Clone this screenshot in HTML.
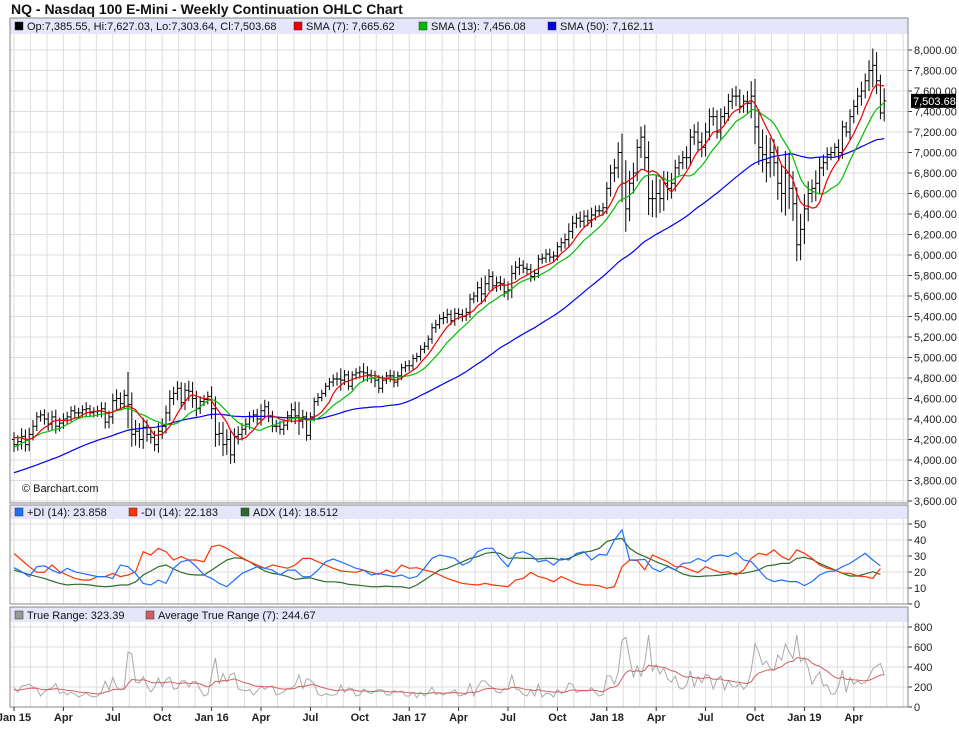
<!DOCTYPE html>
<html><head><meta charset="utf-8"><style>
body{margin:0;background:#fff;}
svg text{font-family:"Liberation Sans",sans-serif;}
</style></head><body>
<svg id="c" width="959" height="748" viewBox="0 0 959 748"></svg>
<script>
const pre = [3550,3580,3600,3560,3600,3680,3720,3740,3720,3680,3650,3700,3620,3590,3570,3620,3610,3650,3680,3740,3760,3780,3820,3840,3850,3870,3900,3920,3950,3970,3910,3970,4010,4030,4070,4090,4080,4050,3980,3940,3900,4030,4100,4140,4180,4240,4270,4230,4260,4200];
const closes = [
4150,4180,4230,4150,4250,4330,4420,4440,4400,4350,4420,4330,4360,4400,4420,4480,4460,4460,4490,4500,4460,4470,4480,4500,4370,4420,4580,4600,4550,4630,4540,4250,4280,4200,4320,4250,4220,4150,4280,4330,4460,4600,4650,4700,4560,4680,4670,4600,4500,4570,4590,4620,
4500,4250,4260,4150,4200,4050,4230,4250,4300,4350,4420,4440,4400,4480,4520,4420,4330,4330,4300,4340,4430,4490,4430,4380,4420,4240,4420,4570,4610,4650,4720,4760,4790,4790,4780,4830,4720,4830,4850,4860,4850,4830,4800,4780,4700,4780,4820,4820,4760,4820,4900,4920,
4920,4990,5010,5080,5110,5180,5290,5320,5380,5390,5420,5360,5430,5420,5400,5440,5570,5600,5680,5620,5720,5790,5700,5730,5720,5640,5660,5820,5880,5900,5870,5860,5790,5820,5960,5970,6010,5980,5990,6080,6120,6150,6230,6310,6360,6330,6380,6340,6390,6430,6430,6460,
6650,6800,6850,7000,6700,6450,6700,6800,7050,7150,6950,6550,6550,6600,6550,6700,6650,6700,6850,6900,6950,6950,7150,7200,7100,7050,7200,7350,7350,7200,7350,7380,7500,7550,7550,7450,7500,7480,7550,7250,7050,6980,6900,7000,6900,6700,6600,6800,6650,6500,6100,6250,
6450,6600,6650,6700,6850,6900,6980,7000,7050,7000,7250,7200,7350,7450,7550,7600,7700,7800,7850,7700,7385,7503.68];
const ranges = [
180,150,200,170,160,150,120,110,140,160,150,180,130,140,120,110,130,100,110,140,90,100,110,150,160,150,170,200,150,140,550,300,250,200,230,180,150,160,200,190,180,200,160,170,150,180,200,230,190,130,110,120,
250,300,230,280,250,220,200,180,150,140,130,120,150,160,170,130,150,120,130,140,120,160,200,320,180,130,110,100,110,90,80,100,110,130,220,120,100,90,110,120,180,150,130,160,120,110,100,120,130,110,100,110,
110,100,90,100,100,90,110,120,100,120,140,110,130,110,120,110,130,100,150,250,200,180,130,150,140,130,180,200,150,170,120,110,130,100,110,100,120,130,100,110,120,150,200,180,120,160,140,150,180,130,110,120,
150,200,220,250,460,560,300,250,200,260,300,400,360,420,330,300,280,250,200,180,160,220,200,190,250,240,220,200,180,160,200,170,180,190,200,170,160,220,360,420,430,420,460,360,330,400,460,540,500,420,400,380,
360,300,220,300,250,200,180,130,100,200,150,120,180,160,200,230,180,250,380,323];
// DMI values read per two weeks
const plusDI = [22.7,20.2,17.1,23.3,23.9,21.2,19.1,22.3,20.2,19.1,18.1,17.1,17.1,16.0,24.4,23.3,19.1,12.9,11.9,15.0,12.9,22.3,26.4,27.5,23.3,18.1,16.0,12.9,10.8,15.0,19.1,21.2,23.3,22.3,21.2,18.1,21.2,21.2,
17.0,17.1,21.2,26.4,28.1,26.4,24.4,22.3,21.2,18.1,19.1,18.1,17.1,18.1,16.0,17.1,22.3,28.5,30.6,29.6,28.5,24.4,26.4,32.7,34.8,34.8,28.5,23.3,31.6,32.7,30.6,26.4,27.5,24.4,28.5,27.5,31.6,32.7,27.5,31.0,
30.6,40,46.3,27.5,27.5,27.9,22.3,20.2,23.3,21.3,25.4,25.8,28.5,26.5,30,30.6,29.6,32.1,27.5,26.5,21.3,16,14,15,14,14,11.5,14,18.1,20.2,20.6,23.3,25.4,28.5,31.7,27.5,23.86];
const minusDI = [31.6,27.5,23.3,19.8,19.8,24.4,20.2,18.1,16.0,15.0,15.0,17.1,17.1,19.1,17.1,18.1,20.2,32.7,30.6,34.8,32.7,27.5,29.6,27.5,27.5,26.4,35.8,36.8,34.8,31.6,28.9,26.4,24.4,22.3,24.4,23.3,22.3,24.4,
28.5,28.5,26.4,24.4,22.3,20.6,20.2,19.8,21.2,19.8,18.5,21.2,19.1,24.4,22.3,22.7,21.2,20.2,18.1,16.0,14.4,12.9,12.3,11.9,12.9,11.9,11.4,10.8,15.0,16.0,19.8,17.1,16.0,13.9,17.1,15.0,12.9,11.9,11.9,11.4,
9.8,10.8,23.3,27.5,27.1,21.3,30.6,28.5,26.5,23.3,23.3,21.3,19.6,23.3,21.3,19.6,20.2,18.1,21.3,28.5,31.7,30.6,33.8,29.6,27.5,33.8,31.7,28.5,24.4,22.3,21.3,19.2,19.2,17.5,17.1,16.0,22.18];
const adxVals = [21.2,19.8,18.5,17.1,16.0,14.4,12.9,11.9,12.3,12.3,11.9,11.2,10.8,11.2,11.9,11.9,13.9,18.1,20.6,23.3,24.4,21.9,19.8,18.5,18.1,18.1,21.2,24.4,27.5,28.9,28.5,26.4,23.3,20.6,19.1,18.5,17.1,15.4,
16.0,16.4,15.0,13.9,13.9,13.5,12.3,11.9,11.4,10.8,10.8,11.2,10.8,10.8,9.8,11.9,15.0,18.1,21.2,22.3,24.4,26.4,28.5,29.6,31.6,32.3,31.6,28.5,28.9,28.5,28.5,28.1,28.5,28.5,27.5,28.5,30.6,32.3,33.1,34.8,
39,40.4,41,34.8,31.7,29.6,27.5,25.4,23.8,21.3,18.8,17.5,17.1,17.5,17.7,18.1,18.8,19.2,19.2,20.2,21.3,23.8,24.4,25.4,25.4,28.5,29.2,27.9,25.4,23.3,21.3,19.2,17.5,17.5,18.8,20.2,18.51];
const priceTicks = [3600,3800,4000,4200,4400,4600,4800,5000,5200,5400,5600,5800,6000,6200,6400,6600,6800,7000,7200,7400,7600,7800,8000];
const diTicks = [0,10,20,30,40,50];
const trTicks = [0,200,400,600,800];
const dateLabels = ["Jan 15","Apr","Jul","Oct","Jan 16","Apr","Jul","Oct","Jan 17","Apr","Jul","Oct","Jan 18","Apr","Jul","Oct","Jan 19","Apr"];

const NS="http://www.w3.org/2000/svg", svg=document.getElementById('c');
function mk(t,a,p){const e=document.createElementNS(NS,t);for(const k in a)e.setAttribute(k,a[k]);(p||svg).appendChild(e);return e;}
const L=10,R=908,W=3.80,X0=14;
const xw=i=>X0+i*W;
const yP=p=>50+(8000-p)*451/4400;
const yD=v=>604-v*1.6;
const yT=v=>707-v*0.1;

const defs=mk('defs',{});
[['cp1',34,503],['cp2',519,604],['cp3',622,707]].forEach(([id,a,b])=>{const c=mk('clipPath',{id:id},defs);mk('rect',{x:L,y:a,width:R-L,height:b-a},c);});

const all=pre.concat(closes), off=pre.length;
const O=[],H=[],Lo=[],C=[];
for(let i=0;i<all.length;i++){const c=all[i],o=i?all[i-1]:c;const r=i>=off?(ranges[i-off]??150):150;const ex=Math.max(r*0.4,(r-Math.abs(c-o))/2);O.push(o);C.push(c);H.push(Math.max(o,c)+ex);Lo.push(Math.min(o,c)-ex);}
{const n=all.length-1;O[n]=7385.55;H[n]=7627.03;Lo[n]=7303.64;}
const sma=(n,i)=>{let s=0,k=0;for(let j=Math.max(0,i-n+1);j<=i;j++){s+=C[j];k++;}return s/k;};
const TR=[],ATR=[];let atr=150;
for(let i=0;i<all.length;i++){let tr=H[i]-Lo[i];if(i)tr=Math.max(tr,Math.abs(H[i]-C[i-1]),Math.abs(Lo[i]-C[i-1]));atr=(atr*6+tr)/7;TR.push(tr);ATR.push(atr);}

let t=mk('text',{x:11,y:14,'font-size':14,'font-weight':'bold',fill:'#111'});t.textContent="NQ - Nasdaq 100 E-Mini - Weekly Continuation OHLC Chart";


const panels=[[18,503],[505,604],[607,707]];
for(let k=0;;k++){const x=X0+k*13*W/3;if(x>R)break;for(const [a,b] of panels)mk('line',{x1:x,x2:x,y1:a,y2:b,stroke:'#ddd'});}
priceTicks.forEach(v=>{mk('line',{x1:L,x2:R,y1:yP(v),y2:yP(v),stroke:'#ddd'});mk('line',{x1:R,x2:R+4,y1:yP(v),y2:yP(v),stroke:'#333'});const e=mk('text',{x:914,y:yP(v)+4,'font-size':11,fill:'#222'});e.textContent=v.toLocaleString('en-US',{minimumFractionDigits:2});
});
diTicks.forEach(v=>{mk('line',{x1:L,x2:R,y1:yD(v),y2:yD(v),stroke:'#ddd'});mk('line',{x1:R,x2:R+4,y1:yD(v),y2:yD(v),stroke:'#333'});const e=mk('text',{x:914,y:yD(v)+4,'font-size':11,fill:'#222'});e.textContent=v;
});
trTicks.forEach(v=>{mk('line',{x1:L,x2:R,y1:yT(v),y2:yT(v),stroke:'#ddd'});mk('line',{x1:R,x2:R+4,y1:yT(v),y2:yT(v),stroke:'#333'});const e=mk('text',{x:914,y:yT(v)+4,'font-size':11,fill:'#222'});e.textContent=v;
});
mk('rect',{x:L,y:18,width:R-L,height:16,fill:'#e6e6fa'});
mk('rect',{x:L,y:505,width:R-L,height:14,fill:'#e6e6fa'});
mk('rect',{x:L,y:607,width:R-L,height:15,fill:'#e6e6fa'});
function leg(x,y,col,txt,name){mk('rect',{x:x,y:y-8,width:8,height:8,fill:col,stroke:'#333','stroke-width':0.5});const e=mk('text',{x:x+12,y:y,'font-size':11,fill:'#111'});e.textContent=txt;

}
leg(15,30,'#000','Op:7,385.55, Hi:7,627.03, Lo:7,303.64, Cl:7,503.68','legend-ohlc');
leg(294,30,'#e00','SMA (7): 7,665.62','legend-sma7');
leg(419,30,'#0b0','SMA (13): 7,456.08','legend-sma13');
leg(548,30,'#00d','SMA (50): 7,162.11','legend-sma50');
leg(15,516,'#1f6fff','+DI (14): 23.858','legend-plus-di');
leg(129,516,'#ff3300','-DI (14): 22.183','legend-minus-di');
leg(241,516,'#2e6b2e','ADX (14): 18.512','legend-adx');
leg(15,619,'#999','True Range: 323.39','legend-true-range');
leg(146,619,'#d06060','Average True Range (7): 244.67','legend-atr');

let d='';
for(let j=0;j<closes.length;j++){const i=j+off,x=+xw(j).toFixed(1);d+=`M${x} ${yP(H[i]).toFixed(1)}V${yP(Lo[i]).toFixed(1)}M${(x-2).toFixed(1)} ${yP(O[i]).toFixed(1)}H${x}M${x} ${yP(C[i]).toFixed(1)}H${(x+2).toFixed(1)}`;}
const bars=mk('path',{d:d,stroke:'#000','stroke-width':1,fill:'none','clip-path':'url(#cp1)'});

function line(fn,col,name,w,cp){let p='';for(let j=0;j<closes.length;j++){p+=(j?'L':'M')+xw(j).toFixed(1)+' '+fn(j+off).toFixed(1);}const e=mk('path',{d:p,stroke:col,'stroke-width':w||1.2,fill:'none','clip-path':'url(#'+cp+')'});
}
function line2(arr,col,name){let p='';arr.forEach((v,k)=>{p+=(k?'L':'M')+xw(2*k).toFixed(1)+' '+yD(v).toFixed(1);});const e=mk('path',{d:p,stroke:col,'stroke-width':1.2,fill:'none','clip-path':'url(#cp2)'});
}
line(i=>yP(sma(50,i)),'#0000ee','sma50-line',1.2,'cp1');
line(i=>yP(sma(13,i)),'#00c000','sma13-line',1.2,'cp1');
line(i=>yP(sma(7,i)),'#ee0000','sma7-line',1.2,'cp1');
line2(adxVals,'#2e6b2e','adx-line');
line2(minusDI,'#ff3300','minus-di-line');
line2(plusDI,'#1f6fff','plus-di-line');
line(i=>yT(TR[i]),'#aaa','true-range-line',1,'cp3');
line(i=>yT(ATR[i]),'#d06060','atr-line',1,'cp3');

for(const [a,b] of panels)mk('rect',{x:L,y:a,width:R-L,height:b-a,fill:'none',stroke:'#888'});
const ly=yP(7503.68);
mk('rect',{x:911,y:ly-7,width:45,height:14,fill:'#000'});
t=mk('text',{x:913,y:ly+4,'font-size':11,fill:'#fff'});t.textContent='7,503.68';

t=mk('text',{x:22,y:492,'font-size':11,fill:'#111'});t.textContent='© Barchart.com';

dateLabels.forEach((s,k)=>{const x=xw(k*13);mk('line',{x1:x,x2:x,y1:707,y2:711,stroke:'#333'});const e=mk('text',{x:x,y:721,'font-size':11,'font-weight':'bold','text-anchor':'middle',fill:'#222'});e.textContent=s;
});
</script>
</body></html>
